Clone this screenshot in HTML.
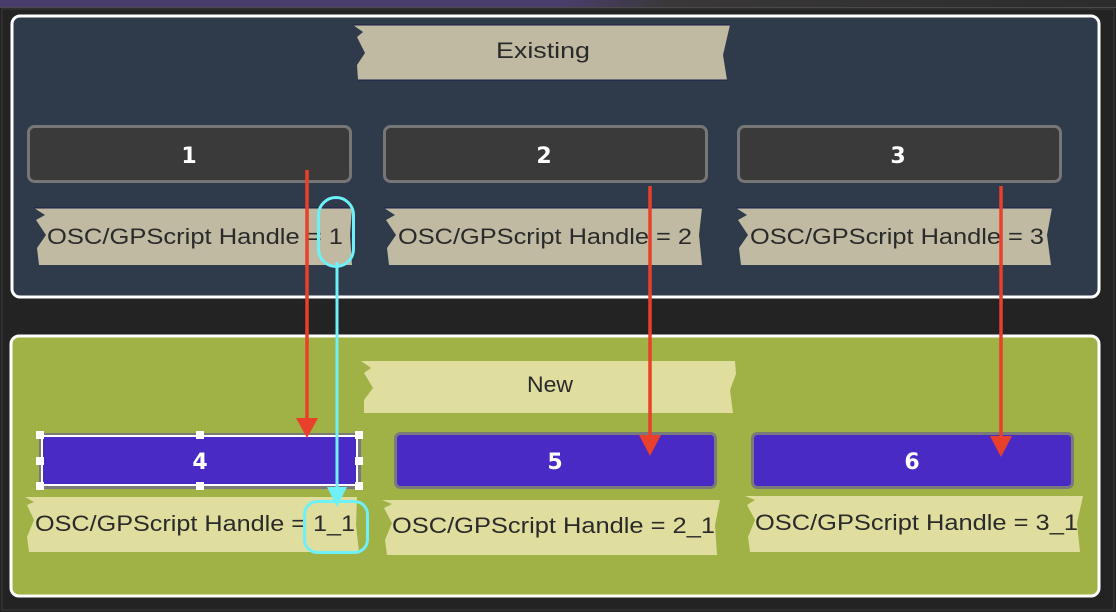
<!DOCTYPE html>
<html><head><meta charset="utf-8"><style>
html,body{margin:0;padding:0;background:#232323;}
svg{display:block;}
</style></head><body>
<svg width="1116" height="612" viewBox="0 0 1116 612" xmlns="http://www.w3.org/2000/svg">
<defs>
<linearGradient id="topg" x1="0" x2="1" y1="0" y2="0">
<stop offset="0" stop-color="#4a3c6c"/>
<stop offset="0.5" stop-color="#4b3e6e"/>
<stop offset="0.6" stop-color="#3a3838"/>
<stop offset="1" stop-color="#2c2c2c"/>
</linearGradient>
</defs>
<rect x="0" y="0" width="1116" height="612" fill="#232323"/>
<rect x="0" y="0" width="1116" height="7" fill="url(#topg)"/>
<rect x="0" y="7" width="1116" height="1" fill="#4a4a4a"/>
<rect x="2" y="9" width="1112" height="601" fill="none" stroke="#3a3a3a" stroke-width="1"/>

<!-- Top panel -->
<rect x="12" y="16" width="1087" height="281" rx="8" fill="#2f3a4a" stroke="#ffffff" stroke-width="3"/>
<!-- Existing tape -->
<polygon points="353,25 730,25 723,55 727,80 358,80 357,65 365,53 357,37 363,32" fill="#bfbaa1"/>
<line x1="353" y1="25" x2="730" y2="25" stroke="#1c1f4a" stroke-width="1"/>
<line x1="358" y1="80" x2="727" y2="80" stroke="#1c1f4a" stroke-width="1"/>
<text x="543" y="58" text-anchor="middle" font-family="Liberation Sans, sans-serif" font-size="22" fill="#2a2a2a" textLength="94" lengthAdjust="spacingAndGlyphs">Existing</text>

<!-- boxes 1-3 -->
<rect x="28.5" y="126.5" width="322" height="55" rx="6" fill="#3a3a3a" stroke="#767676" stroke-width="3"/>
<rect x="384.5" y="126.5" width="322" height="55" rx="6" fill="#3a3a3a" stroke="#767676" stroke-width="3"/>
<rect x="738.5" y="126.5" width="322" height="55" rx="6" fill="#3a3a3a" stroke="#767676" stroke-width="3"/>
<g font-family="DejaVu Sans, Liberation Sans, sans-serif" font-size="22" font-weight="bold" fill="#ffffff" text-anchor="middle">
<text x="189" y="163">1</text>
<text x="544" y="163">2</text>
<text x="898" y="163">3</text>
</g>

<!-- tapes 1-3 -->
<g fill="#bfbaa1">
<polygon points="34,208 352,208 350,235 352,265 39,265 37,248 46,235 36,220 45,215"/>
<polygon points="384,208 702,208 699,235 702,265 389,265 387,248 396,235 386,220 395,215"/>
<polygon points="736,208 1052,208 1047,235 1051,265 741,265 739,248 748,235 738,220 747,215"/>
</g>
<g stroke="#1c1f4a" stroke-width="1">
<line x1="34" y1="208" x2="352" y2="208"/>
<line x1="384" y1="208" x2="702" y2="208"/>
<line x1="736" y1="208" x2="1052" y2="208"/>
</g>
<g font-family="Liberation Sans, sans-serif" font-size="22" fill="#2a2a2a">
<text x="47" y="244" textLength="296" lengthAdjust="spacingAndGlyphs">OSC/GPScript Handle = 1</text>
<text x="398" y="244" textLength="294" lengthAdjust="spacingAndGlyphs">OSC/GPScript Handle = 2</text>
<text x="750" y="244" textLength="294" lengthAdjust="spacingAndGlyphs">OSC/GPScript Handle = 3</text>
</g>

<!-- Bottom panel -->
<rect x="11" y="336" width="1088" height="260" rx="8" fill="#a0b245" stroke="#ffffff" stroke-width="3"/>
<!-- New tape -->
<polygon points="361,361 735,361 736,374 730,390 733,413 364,413 364,400 373,388 364,373 371,368" fill="#dfde9f"/>
<text x="550" y="392" text-anchor="middle" font-family="Liberation Sans, sans-serif" font-size="22" fill="#2a2a2a" textLength="46" lengthAdjust="spacingAndGlyphs">New</text>

<!-- boxes 4-6 -->
<rect x="40.5" y="434.5" width="319" height="53" rx="5" fill="#4a2ac5" stroke="#7a7a7a" stroke-width="3"/>
<rect x="395.5" y="433.5" width="320" height="54" rx="5" fill="#4a2ac5" stroke="#7a7a7a" stroke-width="3"/>
<rect x="752.5" y="433.5" width="320" height="54" rx="5" fill="#4a2ac5" stroke="#7a7a7a" stroke-width="3"/>
<!-- selection on 4 -->
<rect x="42" y="436" width="315" height="49" fill="none" stroke="#ffffff" stroke-width="2"/>
<g fill="#ffffff">
<rect x="36" y="431" width="8" height="8"/>
<rect x="196" y="431" width="8" height="8"/>
<rect x="355" y="431" width="8" height="8"/>
<rect x="36" y="457" width="8" height="8"/>
<rect x="355" y="457" width="8" height="8"/>
<rect x="36" y="482" width="8" height="8"/>
<rect x="196" y="482" width="8" height="8"/>
<rect x="355" y="482" width="8" height="8"/>
</g>
<g font-family="DejaVu Sans, Liberation Sans, sans-serif" font-size="22" font-weight="bold" fill="#ffffff" text-anchor="middle">
<text x="200" y="469">4</text>
<text x="555" y="469">5</text>
<text x="912" y="469">6</text>
</g>

<!-- tapes 4-6 -->
<g fill="#dfde9f">
<polygon points="25,497 357,497 356,525 359,552 29,552 27,537 34,520 27,505 34,502"/>
<polygon points="382,500 720,500 715,525 717,555 387,555 385,540 392,523 384,508 392,504"/>
<polygon points="745,496 1083,496 1077,523 1080,552 750,552 748,537 755,520 747,505 755,500"/>
</g>
<g font-family="Liberation Sans, sans-serif" font-size="22" fill="#2a2a2a">
<text x="35" y="531" textLength="320" lengthAdjust="spacingAndGlyphs">OSC/GPScript Handle = 1_1</text>
<text x="392" y="533" textLength="323" lengthAdjust="spacingAndGlyphs">OSC/GPScript Handle = 2_1</text>
<text x="755" y="530" textLength="323" lengthAdjust="spacingAndGlyphs">OSC/GPScript Handle = 3_1</text>
</g>

<!-- red arrows -->
<g stroke="#e8402a" stroke-width="3.5" fill="none">
<line x1="307" y1="170" x2="307" y2="422"/>
<line x1="650" y1="186" x2="650" y2="438"/>
<line x1="1001" y1="186" x2="1001" y2="440"/>
</g>
<g fill="#e8402a">
<polygon points="296,418 318,418 307,438"/>
<polygon points="639,435 661,435 650,456"/>
<polygon points="990,436 1012,436 1001,457"/>
</g>

<!-- cyan -->
<g stroke="#6ef0f8" stroke-width="3" fill="none">
<rect x="318.5" y="197.5" width="35" height="69" rx="17.5"/>
<line x1="337" y1="262" x2="337" y2="490"/>
<rect x="304.5" y="501.5" width="63" height="51" rx="13"/>
</g>
<polygon points="327,487 347,487 337,507" fill="#6ef0f8"/>
</svg>
</body></html>
